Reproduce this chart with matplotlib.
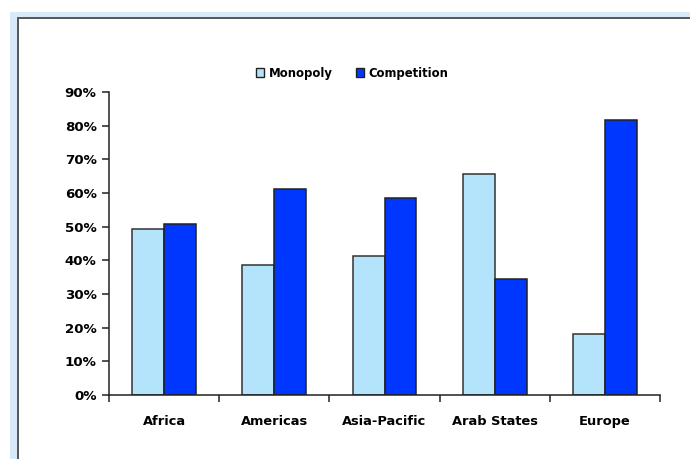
import matplotlib
matplotlib.use("Agg")
import matplotlib.pyplot as plt
import numpy as np
from matplotlib.patches import Rectangle, Patch
from matplotlib.ticker import FixedLocator, PercentFormatter

regions = ["Africa", "Americas", "Asia-Pacific", "Arab States", "Europe"]
monopoly = [49.3, 38.7, 41.4, 65.5, 18.2]
competition = [50.7, 61.3, 58.6, 34.5, 81.8]
series_names = ["Monopoly", "Competition"]

W, H = 690, 459
fig = plt.figure(figsize=(W / 100, H / 100), dpi=100)
fig.patch.set_facecolor("white")

# outer light-blue frame and inner chart area with grey border
fig.add_artist(Rectangle((10 / W, 0), 1, 1 - 12 / H, transform=fig.transFigure,
                         facecolor="#d8eaf9", edgecolor="none", zorder=0))
fig.add_artist(Rectangle((17.5 / W, -0.05), 1, 1.05 - 18.5 / H, transform=fig.transFigure,
                         facecolor="white", edgecolor="#555555", linewidth=1.4, zorder=0))

ax = fig.add_axes([109 / W, 64 / H, 551 / W, 303 / H])
ax.set_facecolor("none")

tick_font = dict(family="DejaVu Sans", weight="bold", size=9.6)
cat_font = dict(family="DejaVu Sans", weight="bold", size=9.4)
legend_font = dict(family="DejaVu Sans", weight="bold", size=8.4)

x = np.arange(len(regions))
bw = 0.29
ax.bar(x - bw / 2, monopoly, bw, color="#b4e4fb", edgecolor="#333333", linewidth=1.1,
       label=series_names[0], zorder=2)
ax.bar(x + bw / 2, competition, bw, color="#0037ff", edgecolor="#222222", linewidth=1.1,
       label=series_names[1], zorder=2)

ax.set_xlim(-0.5, len(regions) - 0.5)
ax.set_ylim(0, 90)
ax.set_yticks(np.arange(0, 91, 10))
ax.yaxis.set_major_formatter(PercentFormatter(decimals=0))
ax.xaxis.set_major_locator(FixedLocator(np.arange(-0.5, len(regions), 1)))
ax.set_xticklabels([])
# category names sit on a common baseline below the axis
label_trans = ax.get_xaxis_transform()
for i, name in enumerate(regions):
    ax.text(i, -30 / 303, name, ha="center", va="baseline", transform=label_trans,
            **cat_font)

for s in ["top", "right"]:
    ax.spines[s].set_visible(False)
for s in ["left", "bottom"]:
    ax.spines[s].set_color("#222222")
    ax.spines[s].set_linewidth(1.1)
ax.tick_params(axis="both", direction="out", length=5, width=1.1, color="#222222")
ax.tick_params(axis="y", pad=4)
for lbl in ax.get_yticklabels():
    lbl.set_fontfamily(tick_font["family"])
    lbl.set_fontweight(tick_font["weight"])
    lbl.set_fontsize(tick_font["size"])

handles = [Patch(facecolor="#b4e4fb", edgecolor="#222222", linewidth=1.0),
           Patch(facecolor="#0037ff", edgecolor="#222222", linewidth=1.0)]
fig.legend(handles, series_names, loc="center", bbox_to_anchor=(352 / W, 1 - 73 / H),
           ncol=2, frameon=False, prop=legend_font, handlelength=0.7, handleheight=0.7,
           handletextpad=0.4, columnspacing=2.0)

fig.savefig("out.png", dpi=100)
